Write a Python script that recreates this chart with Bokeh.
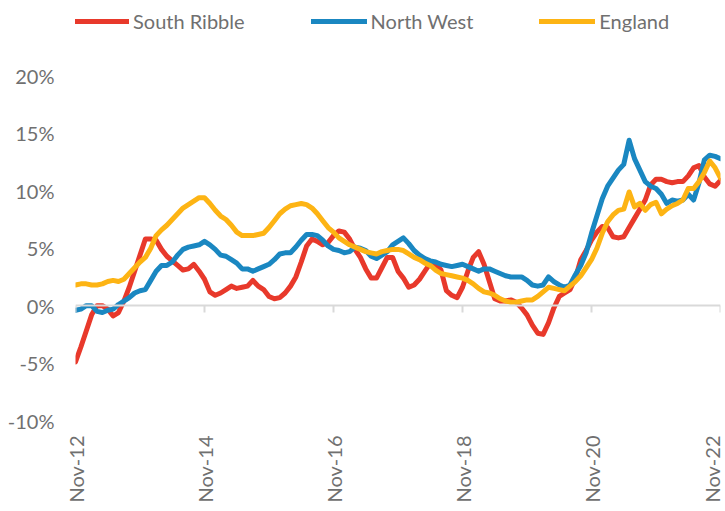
import math
from bokeh.plotting import figure
from bokeh.models import (Legend, LegendItem, LinearAxis, FixedTicker,
                          PrintfTickFormatter, Range1d)
from bokeh.embed import file_html
from bokeh.resources import INLINE

# Monthly index: 0 = Nov-12 ... 120 = Nov-22
months = list(range(121))

x_ticks = [0, 24, 48, 72, 96, 120]
x_tick_labels = ["Nov-12", "Nov-14", "Nov-16", "Nov-18", "Nov-20", "Nov-22"]
y_ticks = [-10, -5, 0, 5, 10, 15, 20]

south_ribble = [
    -4.9, -3.6, -2.2, -0.8, 0.0, 0.0, -0.3, -0.9, -0.6, 0.4,
    1.6, 3.0, 4.4, 5.8, 5.8, 5.7, 4.9, 4.3, 3.9, 3.5,
    3.1, 3.2, 3.6, 3.0, 2.3, 1.2, 0.9, 1.1, 1.4, 1.7,
    1.5, 1.6, 1.7, 2.2, 1.7, 1.4, 0.8, 0.6, 0.7, 1.1,
    1.7, 2.5, 3.8, 5.2, 5.8, 5.6, 5.3, 5.5, 6.1, 6.5,
    6.4, 5.8, 4.9, 4.2, 3.2, 2.4, 2.4, 3.3, 4.2, 4.2,
    3.0, 2.4, 1.6, 1.8, 2.3, 3.0, 3.7, 3.6, 3.1, 1.3,
    0.9, 0.7, 1.6, 3.0, 4.2, 4.7, 3.6, 2.1, 0.6, 0.4,
    0.4, 0.5, 0.3, -0.2, -0.8, -1.7, -2.4, -2.5, -1.5, -0.2,
    0.8, 1.1, 1.4, 2.4, 4.0, 4.8, 5.7, 6.4, 6.9, 6.8,
    6.0, 5.9, 6.0, 6.8, 7.6, 8.4, 9.2, 10.5, 11.0, 11.0,
    10.8, 10.7, 10.8, 10.8, 11.3, 12.0, 12.2, 11.2, 10.6, 10.4,
    10.9,
]

north_west = [
    -0.4, -0.3, 0.0, 0.0, -0.5, -0.6, -0.4, -0.3, 0.1, 0.4,
    0.7, 1.1, 1.3, 1.4, 2.2, 3.0, 3.5, 3.5, 3.8, 4.4,
    4.9, 5.1, 5.2, 5.3, 5.6, 5.3, 4.9, 4.4, 4.3, 4.0,
    3.7, 3.2, 3.2, 3.0, 3.2, 3.4, 3.6, 4.0, 4.5, 4.6,
    4.6, 5.1, 5.7, 6.2, 6.2, 6.1, 5.7, 5.2, 4.9, 4.8,
    4.6, 4.7, 5.1, 5.0, 4.8, 4.3, 4.1, 4.4, 4.7, 5.3,
    5.6, 5.9, 5.4, 4.8, 4.4, 4.1, 3.9, 3.8, 3.6, 3.5,
    3.4, 3.5, 3.6, 3.4, 3.2, 3.0, 3.2, 3.2, 3.0, 2.8,
    2.6, 2.5, 2.5, 2.5, 2.2, 1.8, 1.7, 1.8, 2.5, 2.1,
    1.8, 1.6, 1.8, 2.7, 3.5, 4.6, 6.3, 7.8, 9.3, 10.4,
    11.1, 11.8, 12.3, 14.4, 12.8, 11.8, 10.8, 10.4, 10.2, 9.7,
    8.9, 9.2, 9.1, 9.2, 9.7, 9.2, 10.7, 12.7, 13.1, 13.0,
    12.8,
]

england = [
    1.8, 1.9, 1.9, 1.8, 1.8, 1.9, 2.1, 2.2, 2.1, 2.3,
    2.8, 3.3, 3.8, 4.2, 5.0, 6.1, 6.6, 7.0, 7.5, 8.0,
    8.5, 8.8, 9.1, 9.4, 9.4, 8.9, 8.3, 7.8, 7.5, 7.0,
    6.4, 6.1, 6.1, 6.1, 6.2, 6.3, 6.8, 7.4, 8.0, 8.4,
    8.7, 8.8, 8.9, 8.8, 8.5, 8.0, 7.4, 6.8, 6.4, 5.9,
    5.6, 5.3, 5.1, 4.9, 4.7, 4.6, 4.5, 4.7, 4.8, 4.9,
    4.9, 4.8, 4.5, 4.2, 4.0, 3.7, 3.5, 3.1, 2.8, 2.7,
    2.6, 2.5, 2.4, 2.2, 1.9, 1.5, 1.2, 1.1, 0.9, 0.6,
    0.4, 0.3, 0.3, 0.4, 0.5, 0.5, 0.8, 1.2, 1.6, 1.5,
    1.4, 1.3, 1.7, 2.1, 2.6, 3.3, 4.0, 5.0, 6.3, 7.3,
    7.9, 8.3, 8.4, 9.9, 8.6, 8.9, 8.3, 8.8, 9.0, 8.0,
    8.4, 8.7, 8.9, 9.2, 10.2, 10.2, 10.8, 11.6, 12.6, 12.0,
    11.1,
]

series_names = ["South Ribble", "North West", "England"]
series_colors = ["#E8392B", "#1A87C1", "#FDB414"]

FONT = "Lato"
TEXT_COLOR = "#707070"
FONT_SIZE = "20px"

# frame spans the full figure height down to -10%; the space above 20%
# holds the legend (no tick above 20%)
p = figure(width=723, height=505, output_backend="svg", toolbar_location=None,
           x_range=Range1d(0, 120), y_range=Range1d(-10, 26.57),
           min_border_left=75, min_border_right=3, min_border_top=0,
           min_border_bottom=82)
p.outline_line_color = None
p.xgrid.visible = False
p.ygrid.visible = False
p.background_fill_color = "white"
p.border_fill_color = "white"

# y axis
ya = p.yaxis[0]
ya.ticker = FixedTicker(ticks=y_ticks)
ya.formatter = PrintfTickFormatter(format="%d%%")
ya.axis_line_color = None
ya.major_tick_line_color = None
ya.major_tick_in = 0
ya.major_tick_out = 0
ya.minor_tick_line_color = None
ya.minor_tick_in = 0
ya.minor_tick_out = 0
ya.major_label_standoff = 21
ya.major_label_text_font = FONT
ya.major_label_text_font_size = FONT_SIZE
ya.major_label_text_color = TEXT_COLOR

# x axis (labels at bottom)
xa = p.xaxis[0]
xa.ticker = FixedTicker(ticks=x_ticks)
xa.major_label_overrides = {t: lab for t, lab in zip(x_ticks, x_tick_labels)}
xa.major_label_orientation = math.pi / 2
xa.axis_line_color = None
xa.major_tick_line_color = None
xa.major_tick_in = 0
xa.major_tick_out = 0
xa.minor_tick_line_color = None
xa.minor_tick_in = 0
xa.minor_tick_out = 0
xa.major_label_standoff = 15
xa.major_label_text_font = FONT
xa.major_label_text_font_size = FONT_SIZE
xa.major_label_text_color = TEXT_COLOR

# horizontal axis line crossing at 0
zero_axis = LinearAxis(fixed_location=0, ticker=FixedTicker(ticks=x_ticks),
                       major_label_overrides={t: "" for t in x_ticks},
                       major_label_text_font_size="0px",
                       axis_line_color="#d9d9d9", axis_line_width=2,
                       major_tick_line_color="#d9d9d9", major_tick_line_width=2,
                       major_tick_in=0, major_tick_out=7,
                       minor_tick_line_color=None)
p.add_layout(zero_axis, "below")

renderers = []
for name, ys, col in zip(series_names, [south_ribble, north_west, england], series_colors):
    r = p.line(months, ys, line_color=col, line_width=5, line_join="round", line_cap="round")
    renderers.append((name, r))

legend = Legend(items=[LegendItem(label=n, renderers=[r]) for n, r in renderers],
                location=(-2, 387), orientation="horizontal",
                glyph_width=56, glyph_height=20, label_standoff=4, spacing=66,
                padding=0, margin=0, border_line_color=None,
                background_fill_alpha=0,
                label_text_font=FONT, label_text_font_size=FONT_SIZE,
                label_text_color=TEXT_COLOR)
p.add_layout(legend)

open("out.html", "w").write(file_html(p, INLINE))
